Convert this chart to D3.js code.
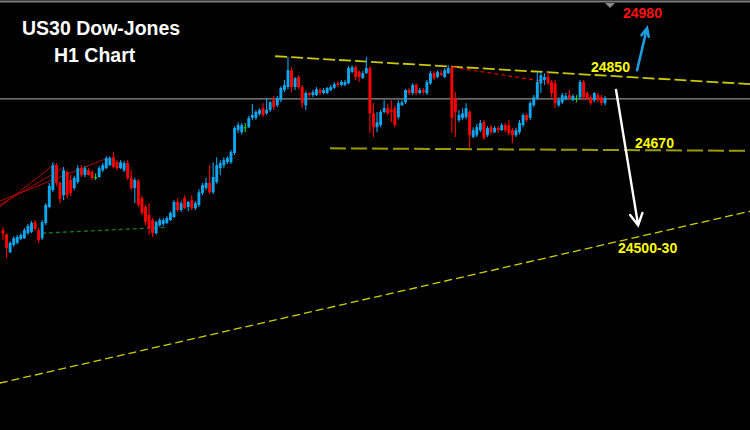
<!DOCTYPE html>
<html><head><meta charset="utf-8">
<script src="https://cdn.jsdelivr.net/npm/d3@7"></script>
<style>html,body{margin:0;padding:0;background:#000;overflow:hidden}</style>
</head><body><svg id="c" width="750" height="430"></svg>
<script>
// ---- H1 candles (price) ----
const open = [24480,24470,24428,24445,24450,24459,24461,24473,24476,24499,
24480,24461,24497,24535,24575,24634,24592,24563,24618,24599,
24580,24594,24627,24611,24622,24618,24606,24606,24622,24627,
24634,24653,24641,24627,24622,24639,24604,24580,24597,24556,
24535,24516,24504,24473,24492,24495,24497,24504,24511,24547,
24528,24556,24535,24551,24532,24540,24568,24580,24592,24570,
24594,24627,24634,24641,24641,24663,24717,24712,24724,24724,
24746,24746,24755,24769,24757,24765,24788,24776,24788,24812,
24819,24859,24819,24843,24819,24776,24805,24800,24800,24812,
24805,24805,24812,24817,24828,24824,24824,24828,24855,24866,
24855,24840,24852,24864,24757,24724,24729,24760,24769,24765,
24769,24748,24776,24783,24812,24805,24824,24805,24812,24805,
24828,24852,24843,24852,24843,24852,24864,24793,24741,24746,
24748,24760,24701,24705,24717,24736,24705,24724,24712,24722,
24717,24729,24729,24717,24705,24712,24729,24753,24746,24776,
24793,24828,24836,24843,24831,24828,24776,24783,24790,24800,
24788,24793,24795,24831,24805,24795,24788,24800,24795,24781];
const high = [24487,24472,24454,24466,24469,24473,24485,24495,24502,24504,
24485,24504,24544,24592,24641,24639,24594,24630,24622,24611,
24609,24634,24634,24632,24627,24622,24615,24632,24639,24655,
24655,24665,24646,24646,24644,24646,24622,24604,24601,24561,
24540,24544,24509,24502,24509,24509,24513,24525,24551,24556,
24549,24563,24549,24563,24549,24577,24592,24604,24634,24641,
24653,24646,24653,24655,24670,24726,24736,24734,24734,24751,
24779,24765,24769,24781,24793,24786,24798,24798,24821,24836,
24890,24866,24843,24847,24824,24809,24807,24812,24819,24817,
24817,24819,24824,24831,24833,24836,24836,24869,24871,24871,
24859,24857,24890,24869,24781,24760,24765,24788,24779,24788,
24776,24788,24788,24815,24817,24828,24828,24817,24817,24836,
24857,24857,24859,24859,24864,24871,24869,24807,24765,24769,
24781,24765,24724,24731,24741,24741,24727,24729,24727,24727,
24734,24734,24741,24722,24722,24741,24757,24757,24786,24800,
24855,24855,24852,24855,24836,24836,24795,24805,24805,24812,
24802,24800,24836,24836,24809,24800,24807,24805,24800,24798];
const low = [24457,24414,24426,24440,24447,24457,24459,24469,24473,24478,
24450,24457,24492,24532,24570,24585,24544,24551,24556,24561,
24575,24590,24606,24606,24609,24599,24599,24604,24618,24625,
24632,24627,24622,24625,24618,24599,24575,24544,24535,24516,
24492,24469,24464,24469,24488,24490,24495,24502,24509,24523,
24523,24530,24525,24528,24528,24535,24563,24575,24566,24566,
24590,24611,24627,24637,24637,24658,24710,24707,24712,24722,
24741,24741,24751,24748,24753,24760,24765,24772,24783,24807,
24814,24807,24812,24814,24769,24765,24795,24795,24798,24800,
24802,24802,24809,24814,24819,24821,24821,24826,24852,24836,
24831,24838,24850,24710,24701,24712,24724,24757,24753,24736,
24724,24743,24774,24779,24800,24800,24800,24802,24802,24800,
24824,24836,24840,24845,24840,24850,24710,24701,24736,24741,
24743,24675,24698,24701,24712,24694,24701,24707,24710,24710,
24715,24712,24705,24686,24701,24707,24724,24736,24741,24772,
24788,24805,24824,24824,24795,24769,24772,24779,24788,24788,
24786,24783,24790,24788,24788,24776,24783,24783,24776,24776];
const close = [24473,24438,24450,24461,24464,24469,24480,24490,24497,24483,
24457,24499,24540,24585,24634,24592,24554,24622,24563,24568,
24604,24627,24611,24627,24611,24604,24606,24627,24634,24651,
24651,24630,24627,24641,24639,24604,24580,24599,24540,24521,
24499,24485,24473,24499,24504,24504,24509,24521,24547,24528,
24544,24532,24547,24532,24544,24570,24587,24592,24570,24606,
24634,24639,24646,24651,24665,24722,24729,24729,24724,24746,
24753,24760,24765,24753,24765,24783,24772,24793,24817,24824,
24859,24819,24840,24819,24781,24805,24800,24807,24814,24805,
24812,24817,24819,24826,24824,24831,24831,24864,24866,24843,
24843,24852,24864,24757,24724,24736,24760,24769,24757,24760,
24729,24781,24783,24812,24805,24824,24805,24812,24807,24831,
24852,24840,24855,24847,24859,24864,24746,24760,24753,24757,
24769,24705,24717,24724,24734,24698,24722,24712,24722,24717,
24729,24717,24710,24705,24717,24734,24753,24741,24781,24795,
24831,24847,24843,24828,24805,24781,24788,24800,24798,24793,
24798,24793,24831,24795,24793,24781,24805,24788,24781,24793];

// ---- drawn objects: [bar index, price] endpoints ----
const refLevel = 24791;
const resistanceIdx = [76.4, 209.7], resistancePx = [24892, 24826];
const supportIdx = [91.8, 209.7],    supportPx = [24674, 24668];
const channelIdx = [-0.9, 209.7],    channelPx = [24118, 24525];
const greenDotIdx = [10.9, 46.0],    greenDotPx = [24473, 24487];
const redDotIdx = [126.3, 151.6],    redDotPx = [24866, 24833];
const fanIdx = [[-0.9, 14.6], [-0.9, 16.8], [-0.9, 30.0]];
const fanPx  = [[24535, 24637], [24540, 24627], [24549, 24653]];
const blueArrowIdx = [178.0, 180.8], blueArrowPx = [24859, 24959];
const whiteArrowIdx = [172.1, 178.3], whiteArrowPx = [24812, 24492];

const titleLines = ["US30 Dow-Jones", "H1 Chart"];
const levelLabels = ["24980", "24850", "24670", "24500-30"];

const W = 750, H = 430;
const svg = d3.select("#c");
svg.append("rect").attr("width", W).attr("height", H).attr("fill", "#000");

const x = d3.scaleLinear().domain([0, open.length - 1]).range([3, 605]);
const y = d3.scaleLinear().domain([24850, 24670]).range([74, 150]);
const line = d3.line().x(d => x(d[0])).y(d => y(d[1]));

// top frame + shift marker
svg.append("line").attr("x1", 0).attr("x2", W).attr("y1", 1.5).attr("y2", 1.5)
  .attr("stroke", "#7c7c7c").attr("stroke-width", 2);
svg.append("path").attr("d", "M605,3L615,3L610,8Z").attr("fill", "#8a8a8a");

// reference level
svg.append("path").attr("d", line([[-2, refLevel], [215, refLevel]]))
  .attr("stroke", "#8e8e8e").attr("stroke-width", 1.4).attr("fill", "none");

// trend lines
svg.append("path").attr("d", line(d3.zip(resistanceIdx, resistancePx)))
  .attr("stroke", "#c9c900").attr("stroke-width", 1.8).attr("stroke-dasharray", "12,4").attr("fill", "none");
svg.append("path").attr("d", line(d3.zip(supportIdx, supportPx)))
  .attr("stroke", "#9c9c00").attr("stroke-width", 2).attr("stroke-dasharray", "16,5").attr("fill", "none");
svg.append("path").attr("d", line(d3.zip(channelIdx, channelPx)))
  .attr("stroke", "#cfcf00").attr("stroke-width", 1.3).attr("stroke-dasharray", "8,4").attr("fill", "none");
svg.append("path").attr("d", line(d3.zip(greenDotIdx, greenDotPx)))
  .attr("stroke", "#1c7a1c").attr("stroke-width", 1.3).attr("stroke-dasharray", "4,3").attr("fill", "none");
svg.append("path").attr("d", line(d3.zip(redDotIdx, redDotPx)))
  .attr("stroke", "#d00000").attr("stroke-width", 1.3).attr("stroke-dasharray", "4,3").attr("fill", "none");
fanIdx.forEach((ix, k) => {
  svg.append("path").attr("d", line(d3.zip(ix, fanPx[k])))
    .attr("stroke", "#b00000").attr("stroke-width", 1).attr("fill", "none");
});

// candles
const bull = "#0ea6ee", bear = "#ff0000", doji = "#22d022";
const g = svg.append("g");
const idx = d3.range(open.length);
const col = i => close[i] > open[i] ? bull : (close[i] < open[i] ? bear : doji);
g.selectAll("line.w").data(idx).join("line").attr("class", "w")
  .attr("x1", i => x(i)).attr("x2", i => x(i))
  .attr("y1", i => y(high[i])).attr("y2", i => y(low[i]))
  .attr("stroke", col).attr("stroke-width", 1.1);
g.selectAll("rect.b").data(idx).join("rect").attr("class", "b")
  .attr("x", i => x(i) - 1.45).attr("width", 2.9)
  .attr("y", i => y(Math.max(open[i], close[i])))
  .attr("height", i => Math.max(1.2, y(Math.min(open[i], close[i])) - y(Math.max(open[i], close[i]))))
  .attr("fill", col);

// arrows
function arrow(ix, px, color, w, len, ang) {
  const x0 = x(ix[0]), y0 = y(px[0]), x1 = x(ix[1]), y1 = y(px[1]);
  const a = Math.atan2(y1 - y0, x1 - x0);
  const p1 = [x1 - len * Math.cos(a - ang), y1 - len * Math.sin(a - ang)];
  const p2 = [x1 - len * Math.cos(a + ang), y1 - len * Math.sin(a + ang)];
  svg.append("path").attr("d", `M${x0},${y0}L${x1},${y1}M${p1[0]},${p1[1]}L${x1},${y1}L${p2[0]},${p2[1]}`)
    .attr("stroke", color).attr("stroke-width", w).attr("fill", "none")
    .attr("stroke-linecap", "round").attr("stroke-linejoin", "miter");
}
arrow(blueArrowIdx, blueArrowPx, "#1f9be0", 2.6, 9, 0.42);
arrow(whiteArrowIdx, whiteArrowPx, "#ffffff", 2.4, 13, 0.5);

// texts
const font = "'Liberation Sans', Arial, sans-serif";
svg.append("text").attr("x", 22).attr("y", 35).text(titleLines[0])
  .attr("fill", "#fff").attr("font-family", font).attr("font-weight", "bold").attr("font-size", 19.5);
svg.append("text").attr("x", 54).attr("y", 62).text(titleLines[1])
  .attr("fill", "#fff").attr("font-family", font).attr("font-weight", "bold").attr("font-size", 19.5);

const labelPos = [[623, 17.5, "#ff1010"], [591, 71.7, "#ffff00"], [635, 148.3, "#ffff00"], [618, 252.7, "#ffff00"]];
levelLabels.forEach((t, k) => {
  svg.append("text").attr("x", labelPos[k][0]).attr("y", labelPos[k][1]).text(t)
    .attr("fill", labelPos[k][2]).attr("font-family", font).attr("font-weight", "bold").attr("font-size", 14);
});
</script></body></html>
